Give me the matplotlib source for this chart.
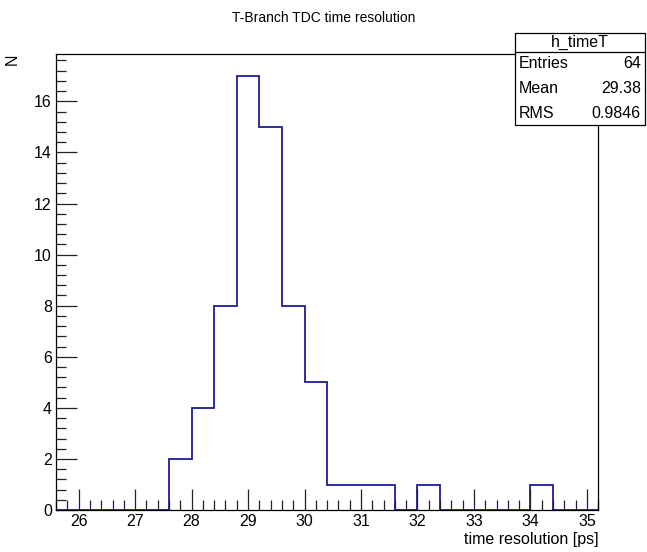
import numpy as np
import matplotlib.pyplot as plt
from matplotlib.patches import Rectangle
from matplotlib.lines import Line2D
from matplotlib.ticker import MultipleLocator

plt.rcParams['font.family'] = ['Liberation Sans', 'DejaVu Sans']

# histogram h_timeT: 24 bins from 25.6 to 35.2
x_min, x_max, n_bins = 25.6, 35.2, 24
counts = [0, 0, 0, 0, 0, 2, 4, 8, 17, 15, 8, 5, 1, 1, 1, 0, 1, 0, 0, 0, 0, 1, 0, 0]
stat_names = ['Entries', 'Mean', 'RMS']
stat_values = ['64', '29.38', '0.9846']

edges = np.linspace(x_min, x_max, n_bins + 1)

fig = plt.figure(figsize=(6.47, 5.52), dpi=100)
ax = fig.add_axes([0.0866, 0.076, 0.838, 0.826])

ax.stairs(counts, edges, color='#1c1c9c', lw=1.3)

ax.set_xlim(x_min, x_max)
ax.set_ylim(0, max(counts) * 1.05)

ax.xaxis.set_major_locator(MultipleLocator(1))
ax.xaxis.set_minor_locator(MultipleLocator(0.2))
ax.yaxis.set_major_locator(MultipleLocator(2))
ax.yaxis.set_minor_locator(MultipleLocator(0.4))
ax.tick_params(which='both', direction='in', top=False, right=False,
               width=0.9, color='#222222')
ax.tick_params(which='major', length=15, labelsize=11.5, pad=3)
ax.tick_params(which='minor', length=7.5)
for s in ax.spines.values():
    s.set_linewidth(0.9)

ax.set_xlabel('time resolution [ps]', fontsize=11.5, loc='right', labelpad=2)
ax.set_ylabel('N', fontsize=11.5, loc='top', labelpad=10)

fig.text(0.5, 0.968, 'T-Branch TDC time resolution', ha='center', va='center',
         fontsize=10)

# stats box
W, H = 647.0, 552.0
bx0, bx1 = 515 / W, 645 / W
by_top, by_head, by_bot = 1 - 33 / H, 1 - 52 / H, 1 - 125 / H
fig.patches.append(Rectangle((bx0, by_bot), bx1 - bx0, by_top - by_bot,
                             transform=fig.transFigure, facecolor='white',
                             edgecolor='black', lw=0.9, zorder=5))
fig.lines.append(Line2D([bx0, bx1], [by_head, by_head], transform=fig.transFigure,
                        color='black', lw=0.9, zorder=6))
fig.text((bx0 + bx1) / 2, 1 - 42.5 / H, 'h_timeT', ha='center', va='center',
         fontsize=11.5, zorder=7)
row_y = [64, 89, 113]
for name, val, yy in zip(stat_names, stat_values, row_y):
    fig.text(bx0 + 4 / W, 1 - yy / H, name, ha='left', va='center',
             fontsize=11.5, zorder=7)
    fig.text(bx1 - 4 / W, 1 - yy / H, val, ha='right', va='center',
             fontsize=11.5, zorder=7)

fig.savefig('out.png', dpi=100)
